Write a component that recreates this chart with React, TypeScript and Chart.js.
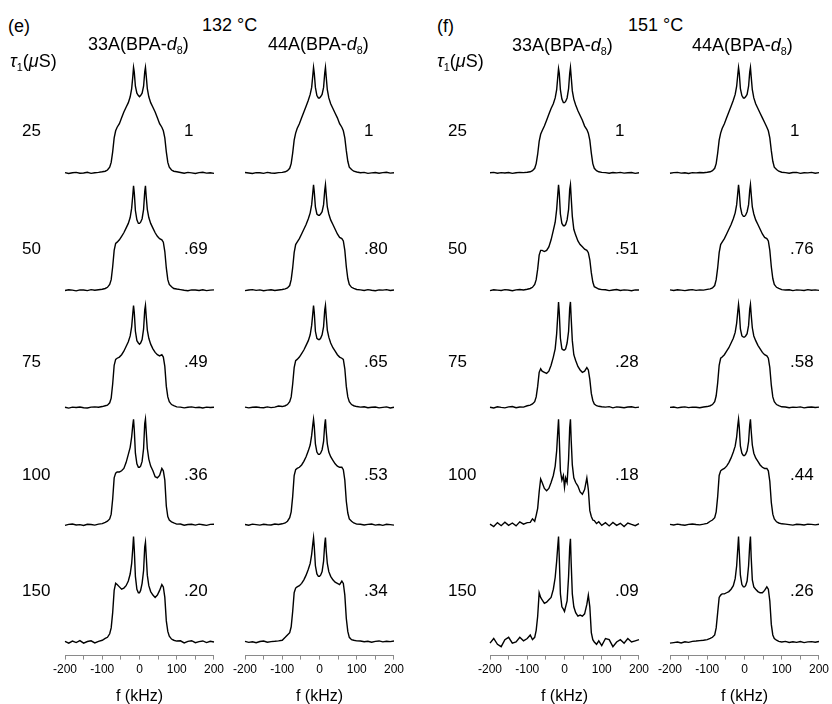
import React, { useEffect, useRef } from 'react';
import { Chart, registerables } from 'chart.js';

Chart.register(...registerables);

// ---------------- DATA ----------------
// frequency grid (kHz) shared by all spectra
const freqKHz = [
  -200, -190, -180, -170, -160, -150, -140, -130, -120, -110,
  -100,
  -92, -86, -80, -76, -72, -68, -64, -60,
  -54, -48, -42, -36, -30,
  -25, -21, -18, -16, -14, -11, -7, -3,
  0,
  3, 7, 11, 14, 16, 18, 21, 25,
  30, 36, 42, 48, 54,
  60, 64, 68, 72, 76, 80, 86, 92,
  100,
  110, 120, 130, 140, 150, 160, 170, 180, 190, 200,
];

const xTickLabels = [-200, -100, 0, 100, 200];
const tauUs = ['25', '50', '75', '100', '150'];

const ratio132_33A = ['1', '.69', '.49', '.36', '.20'];
const ratio132_44A = ['1', '.80', '.65', '.53', '.34'];
const ratio151_33A = ['1', '.51', '.28', '.18', '.09'];
const ratio151_44A = ['1', '.76', '.58', '.44', '.26'];

// intensities (1 row spacing = 100)
// 132 °C, 33A
const s132_33A_25 = [0.3,-0.4,0.2,0.5,-0.2,0,0.6,-0.3,0.2,0.5, 1, 1.5,2.5,5,9,18,30,36,39, 42,47,52,56,60, 65,72,82,90,86,74,68,66, 65, 66,68,74,86,90,83,72,65, 60,56,52,47,42, 39,36,30,18,9,5,2.5,1.5, 1, 0.4,-0.2,0.5,0.1,-0.4,0.3,0.6,-0.1,0.2,-0.3];
const s132_33A_50 = [-0.2,0.4,0.1,-0.5,0.3,0.2,-0.3,0.5,0,0.4, 0.8, 1.5,2.5,5,9,20,34,40,41, 43,46,49,53,57, 62,70,81,89,83,68,60,57, 57, 58,61,69,84,89,80,69,62, 57,53,49,46,44, 43,41,33,19,9,5,3,1.5, 1, 0.5,0,-0.4,0.3,0.2,-0.2,0.4,-0.3,0.1,0.3];
const s132_33A_75 = [0.2,-0.5,0.3,0,0.4,-0.2,-0.4,0.3,0.5,0.2, 0.8, 1.5,2,4,8,20,36,41,42, 43,45,48,52,56, 61,69,80,87,81,65,57,55, 54, 55,58,67,83,87,78,66,59, 54,50,47,45,44, 45,43,35,18,9,5,2.5,1.5, 0.5, 0.3,-0.3,0.2,0.5,-0.1,0.2,-0.4,0.3,0,0.2];
const s132_33A_100 = [-0.5,0.3,0.6,-0.2,0.1,-0.6,0.4,0.2,-0.3,0.5, 1, 2,3,5,9,22,40,44,45, 45,46,48,53,60, 66,75,85,90,81,61,52,49, 49, 50,54,65,86,90,80,65,56, 50,46,41,40,42, 48,46,38,16,7,4,2.5,1.5, 0.5, 0.6,-0.4,0.2,0.4,-0.3,0.5,0,-0.5,0.3,0.4];
const s132_33A_150 = [0.5,-1,0.8,-0.5,1.2,-1,0.4,1,-0.8,0.6, 1.5, 3,4,7,12,25,44,50,49, 47,45,46,48,52, 58,67,80,90,79,56,45,42, 42, 44,50,61,81,85,74,57,48, 43,40,38,40,44, 49,47,38,18,9,5,2.5,1.5, 0.8, 1,-0.8,0.5,1.1,-0.6,0.3,0.9,-0.5,0.6,0];

// 132 °C, 44A
const s132_44A_25 = [0.4,0,-0.4,0.3,0.2,-0.3,0.5,0,-0.2,0.3, 0.5, 1,2,4,8,17,28,34,38, 42,47,52,57,62, 67,73,83,90,85,73,66,64, 64, 65,67,73,85,90,82,71,64, 59,55,51,47,42, 39,36,30,19,10,5,3,1.5, 0.8, 0.2,0.5,-0.3,0.1,0.4,-0.2,0.3,0.6,-0.1,0.2];
const s132_44A_50 = [-0.3,0.2,0.5,-0.1,0.3,-0.4,0.1,0.4,-0.2,0.2, 0.6, 1.2,2,4,9,19,32,39,41, 44,48,52,56,61, 66,73,83,90,84,71,65,64, 64, 65,67,73,85,90,82,71,65, 60,56,52,48,45, 44,42,34,20,10,5,2.5,1.5, 0.6, 0.3,-0.2,0.5,0,-0.4,0.3,0.1,0.5,-0.2,0.2];
const s132_44A_75 = [0.3,-0.3,0.2,0.4,0,-0.2,0.5,-0.1,0.3,1.2, 0.8, 1.5,2.5,5,9,20,34,40,41, 43,46,49,53,57, 62,70,80,87,81,65,59,58, 58, 59,62,69,83,87,78,66,60, 55,51,48,45,43, 42,41,33,18,9,5,2.5,1.5, 0.8, 0.3,0.6,-0.2,0.2,0.4,-0.3,0.1,0.5,-0.4,0.2];
const s132_44A_100 = [0.2,-0.4,0.5,0.1,-0.3,0.4,0,-0.2,0.6,0.2, 0.8, 1.5,3,6,11,24,42,47,48, 49,51,54,58,63, 68,76,85,90,84,69,62,60, 60, 61,64,71,85,90,80,69,62, 58,55,52,50,49, 49,47,38,20,10,5,3,1.5, 0.5, 0.4,-0.2,0.3,0.6,-0.3,0.2,-0.5,0.4,0.1,-0.3];
const s132_44A_150 = [0.5,-0.3,0.2,-0.6,0.4,0.8,-0.2,0.3,0.6,1, 1.5, 4,6,8,13,26,42,46,47, 48,50,53,57,62, 67,75,84,89,81,65,58,56, 56, 57,60,69,84,89,78,67,60, 56,53,51,50,49, 52,50,40,20,9,4,2,1.5, 1, 0.8,0.2,0.6,-0.2,0.5,0.9,0.1,0.6,0.3,0.8];

// 151 °C, 33A
const s151_33A_25 = [0.2,0.5,-0.2,0.3,0,0.4,-0.3,0.2,0.5,0.3, 0.6, 1,2,4,8,16,27,33,36, 40,45,50,55,59, 64,71,82,89,85,71,63,60, 60, 61,64,72,85,90,82,70,63, 58,53,49,45,40, 37,34,28,17,8,4,2,1, 0.5, 0.3,-0.2,0.4,0.1,0.5,-0.1,0.2,0.4,-0.3,0.2];
const s151_33A_50 = [-0.3,0.4,0.1,-0.2,0.5,0.2,-0.4,0.3,0.6,0.2, 0.8, 1.5,2.5,5,9,18,30,34,34, 33,34,37,43,51, 58,69,82,90,83,65,57,55, 55, 56,60,69,86,90,79,63,52, 47,42,39,37,35, 34,32,26,15,7,3,2,1, 0.5, 0.4,-0.3,0.2,0.6,-0.2,0.3,0.1,-0.4,0.3,0.2];
const s151_33A_75 = [0.2,-0.4,0.6,0.1,-0.3,0.5,0.8,-0.2,0.4,0.3, 1.5, 2,3,5,9,18,30,33,31, 30,29,31,36,43, 50,63,79,90,81,59,50,49, 49, 50,55,65,85,90,76,57,45, 40,35,32,30,31, 34,32,24,12,6,3,1.5,1, 0.6, 0.3,0.7,-0.3,0.5,0.2,-0.2,0.4,0.6,-0.1,0.3];
const s151_33A_100 = [0.5,-1.5,1.8,-0.8,2.2,-0.5,1.5,-1,2.5,0.5, 1.8, 2,5,3,8,14,28,39,36, 31,29,31,36,42, 50,63,80,90,74,46,38,42, 32, 40,36,56,83,90,72,51,40, 36,33,28,26,30, 40,30,12,7,4,3.5,1,2.5, -0.5, 1.8,-1,2,-0.5,1.2,-1.5,1.5,0.3,-0.8,1];
const s151_33A_150 = [-1,3,-2,-4,2,4,-1,0,4,1, 3, 6,2,4,10,22,42,38,36, 33,34,36,38,45, 55,69,82,90,72,41,30,28, 26, 30,35,56,81,88,67,41,30, 25,22,23,22,24, 32,40,30,8,2,0,-2,1, -3, 3,2,-4,0,2,-1,3,0,1,2];

// 151 °C, 44A
const s151_44A_25 = [-0.2,0.3,0.5,-0.1,0.2,-0.4,0.3,0.1,0.4,0.2, 0.6, 1,2,4,8,17,28,34,38, 42,47,52,57,62, 67,74,84,90,85,72,66,64, 64, 65,67,74,86,90,82,71,64, 59,55,51,47,43, 39,36,30,19,10,5,3,1.5, 0.6, 0.3,-0.2,0.4,0.5,-0.3,0.2,0.1,0.5,-0.2,0.3];
const s151_44A_50 = [0.3,-0.2,0.4,0.1,-0.3,0.2,0.5,-0.1,0.3,0.1, 0.7, 1.2,2,4,9,19,32,39,41, 44,48,52,56,61, 66,73,83,90,84,71,65,63, 63, 64,67,73,85,90,82,71,65, 60,56,52,48,45, 44,42,34,20,10,5,2.5,1.5, 0.5, 0.2,0.4,-0.3,0.3,0.1,-0.2,0.5,0,0.3,-0.1];
const s151_44A_75 = [0.1,0.4,-0.3,0.2,0.5,-0.1,0.3,0.2,-0.2,0.4, 0.8, 1.5,2.5,5,10,21,36,42,43, 45,48,51,55,59, 64,72,82,88,82,67,61,60, 60, 61,63,70,84,88,79,68,61, 57,53,50,47,45, 44,42,34,19,9,5,2.5,1.5, 0.6, 0.4,-0.2,0.3,0.1,0.5,-0.3,0.2,0.4,0,0.3];
const s151_44A_100 = [0.3,-0.2,0.5,0,-0.4,0.3,0.6,0.2,-0.1,0.5, 1.2, 3,4,6,11,24,42,46,47, 48,50,53,57,62, 67,75,85,90,83,67,61,59, 59, 60,63,71,85,90,80,68,61, 57,54,51,49,48, 48,46,37,19,9,5,2.5,1.5, 0.8, 0.5,0.1,-0.3,0.4,0.2,-0.2,0.5,0.3,-0.1,0.4];
const s151_44A_150 = [-1,-0.5,0,-0.8,0.2,-0.3,0.5,0.8,1.2,1.5, 2, 3,4,6,12,25,38,40,41, 41,42,43,45,48, 54,65,80,90,77,57,49,47, 47, 48,52,65,83,90,72,53,47, 45,43,42,42,44, 47,45,35,15,6,3,1.5,0.5, 0, 0.5,-0.4,0.2,-0.3,0.4,-0.5,0.1,0.3,-0.2,0.4];

const spectra132_33A = [s132_33A_25, s132_33A_50, s132_33A_75, s132_33A_100, s132_33A_150];
const spectra132_44A = [s132_44A_25, s132_44A_50, s132_44A_75, s132_44A_100, s132_44A_150];
const spectra151_33A = [s151_33A_25, s151_33A_50, s151_33A_75, s151_33A_100, s151_33A_150];
const spectra151_44A = [s151_44A_25, s151_44A_50, s151_44A_75, s151_44A_100, s151_44A_150];

// ---------------- LAYOUT ----------------
const FONT = '"Liberation Sans", Arial, Helvetica, sans-serif';
const PAD_L = 30;
const PAD_R = 12.5;
const CANVAS_W = 192;
const CANVAS_TOP = 40;
const CANVAS_H = 665;
const PAD_T = 17.6;
const Y_MAX = 510;
const ROW = 100;
const BASE = 11.6;
const rowCenters = [130, 248, 361, 474, 590];

function SpectraColumn({ spectra, axisLeft }: { spectra: number[][]; axisLeft: number }) {
  const ref = useRef<HTMLCanvasElement | null>(null);
  useEffect(() => {
    if (!ref.current) return;
    const n = spectra.length;
    const datasets = spectra.map((vals, r) => ({
      data: freqKHz.map((f, i) => ({ x: f, y: BASE + ROW * (n - 1 - r) + vals[i] })),
      borderColor: '#000',
      borderWidth: 1.4,
      pointRadius: 0,
      tension: 0,
      fill: false,
    }));
    const chart = new Chart(ref.current, {
      type: 'line',
      data: { datasets },
      options: {
        animation: false,
        responsive: false,
        events: [],
        clip: false,
        plugins: { legend: { display: false }, tooltip: { enabled: false } },
        layout: { padding: { left: PAD_L, right: PAD_R, top: PAD_T, bottom: 0 } },
        scales: {
          x: {
            type: 'linear',
            min: -200,
            max: 200,
            ticks: {
              stepSize: 50,
              autoSkip: false,
              maxRotation: 0,
              color: '#000',
              padding: 3,
              font: { size: 12, family: FONT },
              callback: (v: any) => (xTickLabels.includes(Number(v)) ? String(v) : ''),
            },
            grid: { drawOnChartArea: false, drawTicks: true, tickLength: 4, color: '#8a8a8a' },
            border: { display: true, color: '#8a8a8a', width: 1 },
            title: {
              display: true,
              text: 'f (kHz)',
              color: '#000',
              font: { size: 16, family: FONT, lineHeight: 1 },
              padding: { top: 9, bottom: 0 },
            },
          },
          y: { display: false, min: 0, max: Y_MAX },
        },
      } as any,
    });
    return () => chart.destroy();
  }, [spectra]);
  return (
    <canvas
      ref={ref}
      width={CANVAS_W}
      height={CANVAS_H}
      style={{ position: 'absolute', left: axisLeft - PAD_L, top: CANVAS_TOP, width: CANVAS_W, height: CANVAS_H }}
    />
  );
}

function Txt({ x, y, size = 17, children }: { x: number; y: number; size?: number; children: React.ReactNode }) {
  return (
    <div
      style={{
        position: 'absolute',
        left: x,
        top: y,
        transform: 'translateY(-50%)',
        fontSize: size,
        lineHeight: 1,
        fontFamily: FONT,
        color: '#000',
        whiteSpace: 'nowrap',
      }}
    >
      {children}
    </div>
  );
}

const sub = (t: string) => (
  <span style={{ fontSize: '0.6em', position: 'relative', top: '0.35em' }}>{t}</span>
);

const Sample = ({ name }: { name: string }) => (
  <>
    {name}(BPA-<i>d</i>
    {sub('8')})
  </>
);

const Tau = () => (
  <>
    <i>τ</i>
    {sub('1')}(<i>μ</i>S)
  </>
);

export default function App() {
  const columns = [
    { spectra: spectra132_33A, ratios: ratio132_33A, axisLeft: 65, ratioX: 184 },
    { spectra: spectra132_44A, ratios: ratio132_44A, axisLeft: 245, ratioX: 364 },
    { spectra: spectra151_33A, ratios: ratio151_33A, axisLeft: 490, ratioX: 615 },
    { spectra: spectra151_44A, ratios: ratio151_44A, axisLeft: 670, ratioX: 790 },
  ];
  return (
    <div style={{ position: 'absolute', left: 0, top: 0, width: 832, height: 704, overflow: 'hidden', background: '#fff' }}>
      {columns.map((c, i) => (
        <SpectraColumn key={i} spectra={c.spectra} axisLeft={c.axisLeft} />
      ))}
      <Txt x={8} y={26} size={18}>(e)</Txt>
      <Txt x={202} y={25} size={18}>132 °C</Txt>
      <Txt x={88} y={44} size={18}><Sample name="33A" /></Txt>
      <Txt x={268} y={44} size={18}><Sample name="44A" /></Txt>
      <Txt x={10} y={61} size={18}><Tau /></Txt>
      <Txt x={437} y={26} size={18}>(f)</Txt>
      <Txt x={628} y={25} size={18}>151 °C</Txt>
      <Txt x={512} y={45} size={18}><Sample name="33A" /></Txt>
      <Txt x={692} y={45} size={18}><Sample name="44A" /></Txt>
      <Txt x={437} y={61} size={18}><Tau /></Txt>
      {tauUs.map((t, r) => (
        <React.Fragment key={'t' + r}>
          <Txt x={22} y={rowCenters[r]}>{t}</Txt>
          <Txt x={448} y={rowCenters[r]}>{t}</Txt>
        </React.Fragment>
      ))}
      {columns.map((c, i) =>
        c.ratios.map((t, r) => (
          <Txt key={'r' + i + '-' + r} x={c.ratioX} y={rowCenters[r]}>{t}</Txt>
        ))
      )}
    </div>
  );
}
